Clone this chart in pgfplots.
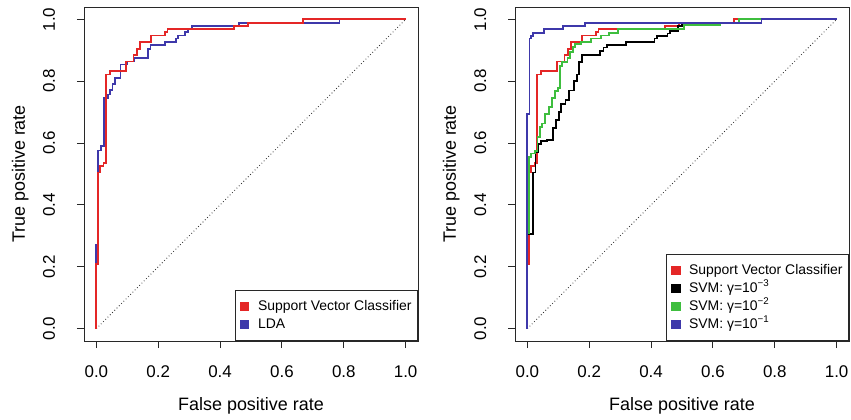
\documentclass[border=0pt]{standalone}
\usepackage{pgfplots}
\pgfplotsset{compat=1.18}
\usepackage{fontspec}
\setmainfont{Liberation Sans}
\definecolor{rocred}{RGB}{228,38,38}
\definecolor{rocblue}{RGB}{62,56,170}
\definecolor{rocgreen}{RGB}{62,190,62}
\definecolor{axgray}{RGB}{40,40,40}

\pgfplotsset{
  rocaxis/.style={
    scale only axis, width=334bp, height=334bp,
    xmin=-0.04, xmax=1.04, ymin=-0.04, ymax=1.04,
    xtick={0,0.2,0.4,0.6,0.8,1}, xticklabels={0.0,0.2,0.4,0.6,0.8,1.0},
    ytick={0,0.2,0.4,0.6,0.8,1}, yticklabels={0.0,0.2,0.4,0.6,0.8,1.0},
    xtick pos=bottom, ytick pos=left, tick align=outside,
    major tick length=7bp,
    every tick/.style={axgray, line width=0.9bp},
    axis line style={axgray, line width=0.9bp},
    tick label style={font=\fontsize{17}{20}\selectfont},
    xticklabel style={anchor=base}, xticklabel shift=29bp,
    yticklabel style={rotate=90, anchor=base}, yticklabel shift=22bp,
    xlabel={False positive rate}, ylabel={True positive rate},
    label style={font=\fontsize{18}{21}\selectfont},
    xlabel style={at={(axis description cs:0.5,-0.2066)}, anchor=base},
    ylabel style={at={(axis description cs:-0.177,0.5)}, anchor=base},
    legend style={at={(1,0)}, anchor=south east, draw=axgray, line width=0.9bp,
      font=\fontsize{14}{16}\selectfont, inner xsep=4bp, inner ysep=7.5bp,
      row sep=1bp, nodes={inner sep=2bp, text height=10bp, text depth=3bp}},
    legend cell align=left,
    legend image code/.code={
      \path[draw=none, fill=none] (0bp,-4bp) rectangle (17bp,4bp);
      \fill (1.6bp,-4bp) rectangle (9.6bp,4bp);},
  },
  roc/.style={line width=1.8bp, const plot, mark=none},
  diag/.style={forget plot, black!80, line width=0.8bp, dash pattern=on 0.8bp off 2.4bp},
}

\begin{document}
\begin{tikzpicture}
\useasboundingbox (0,0) rectangle (851bp,420bp);

\begin{axis}[rocaxis, at={(84bp,79bp)}, anchor=south west]
\addlegendimage{rocred}\addlegendentry{Support Vector Classifier}
\addlegendimage{rocblue}\addlegendentry{LDA}
\addplot[diag] coordinates {(0,0) (1,1)};
\addplot[forget plot, roc, rocblue] coordinates {
(0,0)(0,0.272)(0.005,0.576)(0.014,0.590)(0.025,0.747)(0.037,0.757)(0.044,0.771)
(0.052,0.790)(0.060,0.810)(0.078,0.854)(0.098,0.864)(0.122,0.875)(0.168,0.905)
(0.175,0.918)(0.222,0.927)(0.257,0.938)(0.265,0.948)(0.287,0.959)(0.295,0.969)
(0.309,0.979)(0.462,0.989)(0.786,1)(1,1)};
\addplot[forget plot, roc, rocred] coordinates {
(0,0)(0,0.21)(0.005,0.505)(0.011,0.527)(0.023,0.536)(0.032,0.822)(0.043,0.833)
(0.095,0.864)(0.120,0.884)(0.132,0.905)(0.140,0.927)(0.176,0.948)(0.223,0.959)
(0.230,0.969)(0.444,0.978)(0.489,0.989)(0.667,1.0)(1,1)};
\end{axis}

\begin{axis}[rocaxis, at={(515bp,79bp)}, anchor=south west]
\addplot[diag] coordinates {(0,0) (1,1)};
\addplot[roc, rocred] coordinates {
(0,0)(0,0.21)(0.005,0.505)(0.011,0.527)(0.023,0.536)(0.032,0.822)(0.043,0.833)
(0.095,0.864)(0.120,0.884)(0.132,0.905)(0.140,0.927)(0.176,0.948)(0.223,0.959)
(0.230,0.969)(0.444,0.978)(0.489,0.989)(0.667,1.0)(1,1)};
\addlegendentry{Support Vector Classifier}
\addplot[roc, black] coordinates {
(0,0)(0,0.305)(0.017,0.505)(0.026,0.571)(0.036,0.598)(0.044,0.607)(0.064,0.611)
(0.082,0.650)(0.092,0.674)(0.101,0.700)(0.110,0.727)(0.123,0.739)(0.135,0.770)
(0.152,0.800)(0.161,0.822)(0.168,0.863)(0.177,0.884)(0.235,0.899)(0.246,0.909)
(0.257,0.918)(0.319,0.927)(0.411,0.938)(0.418,0.946)(0.453,0.954)(0.461,0.962)
(0.488,0.978)(0.500,0.989)(0.757,1)(1,1)};
\addlegendentry{SVM: γ=10\textsuperscript{−3}}
\addplot[roc, rocgreen] coordinates {
(0,0)(0,0.31)(0.006,0.555)(0.013,0.566)(0.024,0.575)(0.033,0.62)(0.040,0.652)
(0.047,0.663)(0.058,0.695)(0.069,0.717)(0.080,0.747)(0.090,0.768)(0.100,0.779)
(0.106,0.850)(0.113,0.863)(0.130,0.875)(0.139,0.894)(0.148,0.910)(0.153,0.921)
(0.173,0.927)(0.205,0.938)(0.237,0.948)(0.265,0.956)(0.292,0.968)(0.507,0.981)
(0.623,0.989)(0.685,1)(1,1)};
\addlegendentry{SVM: γ=10\textsuperscript{−2}}
\addplot[roc, rocblue] coordinates {
(0,0)(0,0.695)(0.007,0.938)(0.011,0.945)(0.017,0.957)(0.053,0.968)(0.115,0.979)
(0.187,0.989)(0.757,1)(1,1)};
\addlegendentry{SVM: γ=10\textsuperscript{−1}}
\end{axis}
\end{tikzpicture}
\end{document}
